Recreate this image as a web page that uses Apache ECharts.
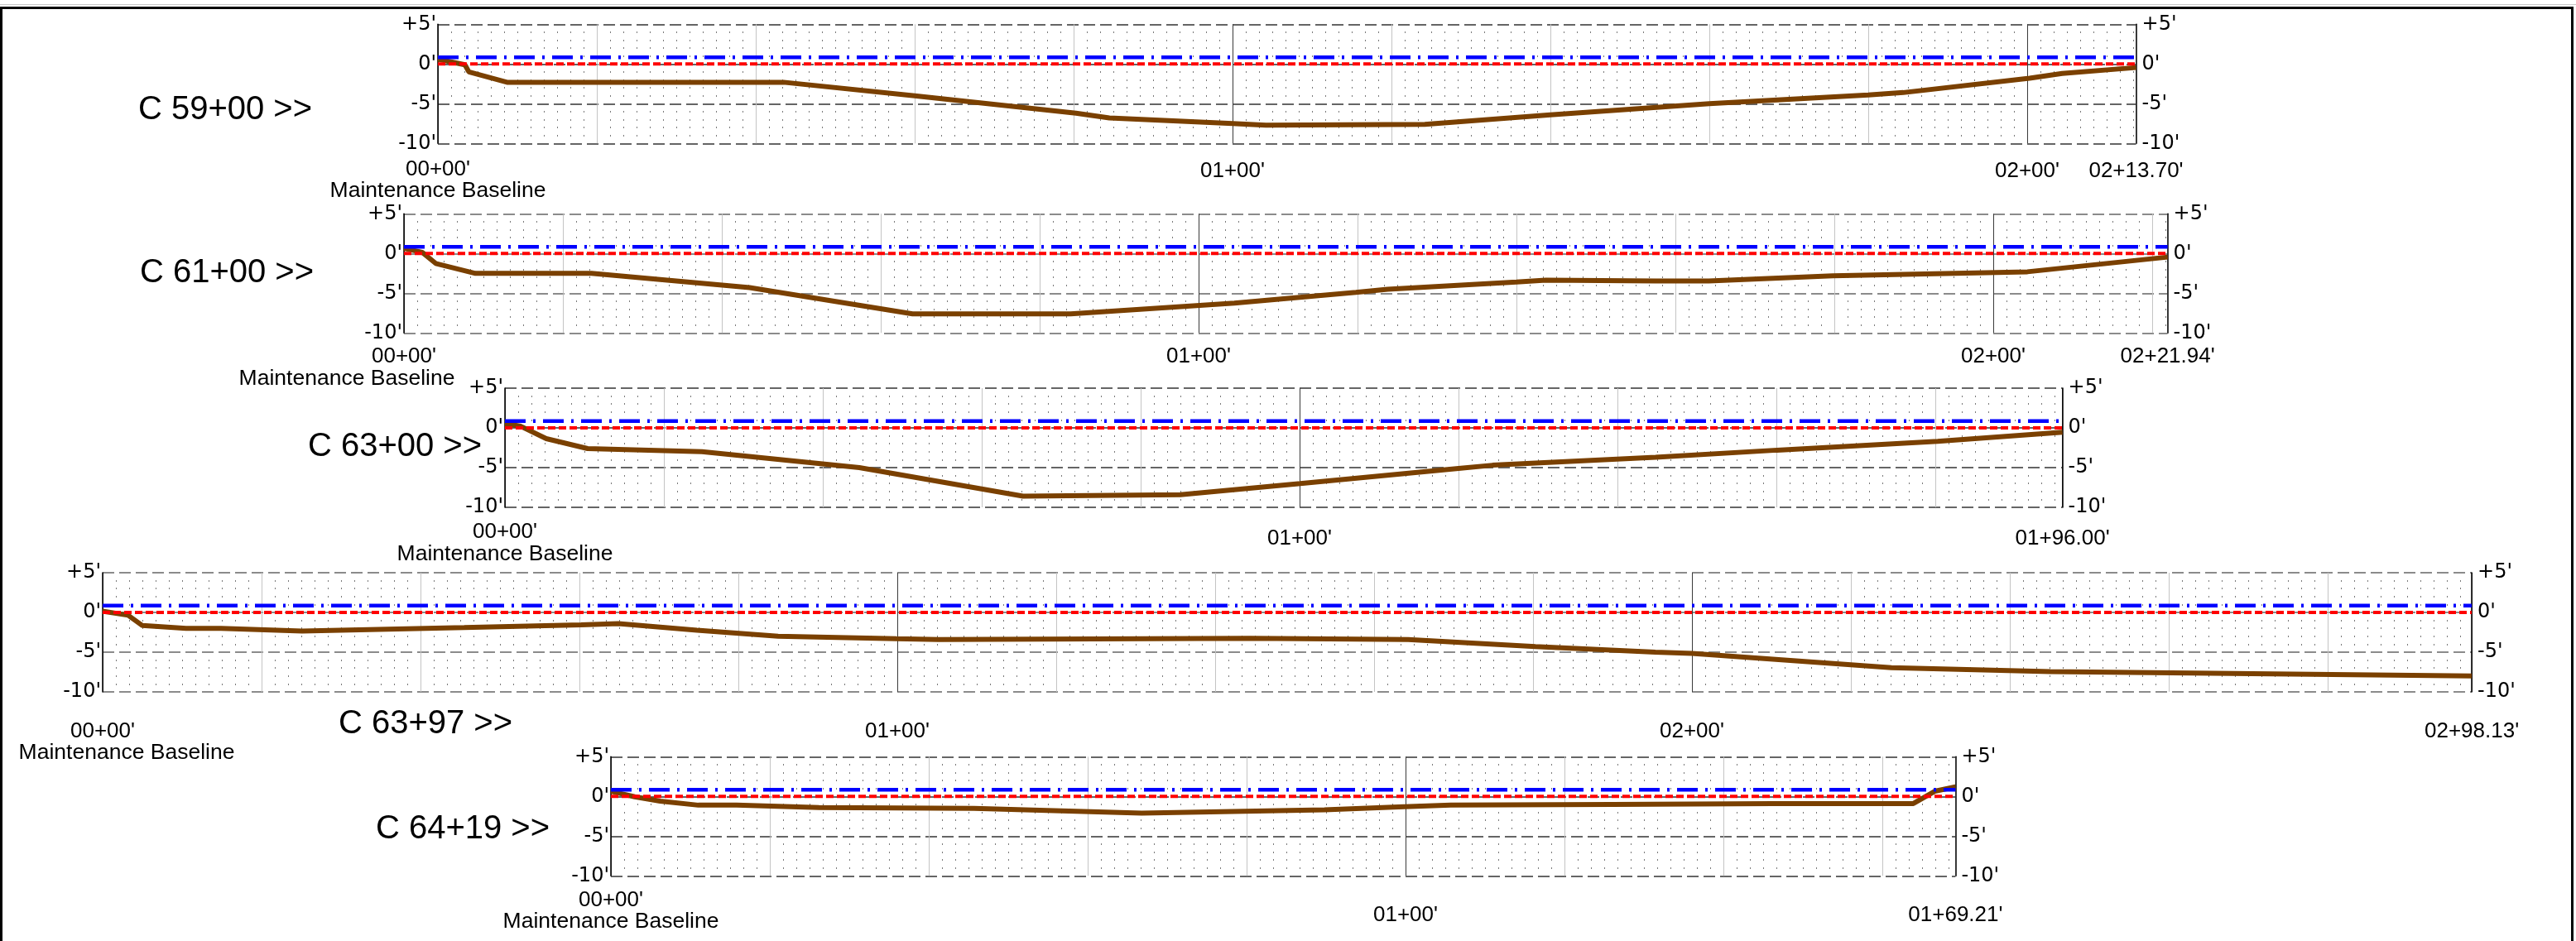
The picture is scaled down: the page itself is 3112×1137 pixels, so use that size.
<!DOCTYPE html>
<html><head><meta charset="utf-8">
<script src="https://cdn.jsdelivr.net/npm/echarts@6.0.0/dist/echarts.min.js"></script>
<style>html,body{margin:0;padding:0;background:#fff}#c{width:3112px;height:1137px}</style>
</head><body><div id="c"></div>
<script>
// ---------------- DATA ----------------
const sectionNames = ['C 59+00 >>', 'C 61+00 >>', 'C 63+00 >>', 'C 63+97 >>', 'C 64+19 >>'];
const sectionLengths = [213.70, 221.94, 196.00, 298.13, 169.21];
const endLabels = ["02+13.70'", "02+21.94'", "01+96.00'", "02+98.13'", "01+69.21'"];
const yTickValues = [5, 0, -5, -10];
const yTickLabels = ["+5'", "0'", "-5'", "-10'"];
const baselineLabel = 'Maintenance Baseline';
const redLevel = 0;      // red dashed line
const blueLevel = 0.85;  // blue dash-dot line

// profiles: [distance ft, elevation ft]
const profileC5900 = [[0,0.6],[3.4,-0.1],[3.9,-1.0],[8.7,-2.3],[43.5,-2.3],[60,-4.0],[80.3,-6.2],[84.5,-6.8],[100,-7.5],[104.2,-7.7],[124.2,-7.6],[140,-6.4],[160,-5.0],[180,-3.9],[184.4,-3.6],[200.3,-1.8],[204.4,-1.2],[213.7,-0.45]];
const profileC6100 = [[0,0.65],[2.3,0.15],[4,-1.25],[9,-2.5],[23.6,-2.5],[43.5,-4.3],[64,-7.6],[83.9,-7.6],[104.5,-6.25],[119.8,-4.9],[123.8,-4.5],[140,-3.6],[143.7,-3.35],[157.5,-3.45],[164.2,-3.45],[179.8,-2.8],[204.3,-2.3],[221.94,-0.45]];
const profileC6300 = [[0,0.55],[2,0.2],[5.2,-1.35],[10.4,-2.6],[24.8,-3.0],[44.6,-5.0],[65.2,-8.6],[85,-8.4],[100.1,-7.0],[120,-5.1],[124.3,-4.7],[144.8,-3.7],[160.1,-2.8],[180.3,-1.7],[196,-0.55]];
const profileC6397 = [[0,0.15],[3.2,-0.35],[5,-1.65],[10.5,-2.0],[14.9,-2.0],[25.1,-2.35],[45.5,-1.9],[60.2,-1.55],[64.9,-1.4],[74.8,-2.25],[85,-3.0],[99.9,-3.3],[105.2,-3.4],[144.4,-3.25],[164.3,-3.4],[180.3,-4.3],[195.4,-5.0],[200,-5.15],[225.1,-6.95],[245.1,-7.45],[265.5,-7.65],[298.13,-8.0]];
const profileC6419 = [[0,0.65],[3,-0.05],[6.2,-0.6],[11,-1.1],[15.8,-1.1],[26.2,-1.4],[45.7,-1.5],[66.8,-2.1],[89.8,-1.7],[99.8,-1.3],[105.7,-1.1],[126,-1.0],[146.2,-0.9],[163.9,-0.9],[166.6,0.65],[169.21,1.2]];
const profiles = [profileC5900, profileC6100, profileC6300, profileC6397, profileC6419];

// ---------------- LAYOUT / STYLE ----------------
const FONT = "'Liberation Sans', Arial, Helvetica, sans-serif";
const YFONT = "'DejaVu Sans', 'Liberation Sans', sans-serif";
const PX_PER_FT = 9.6;
const PLOT_H = 144;
const layouts = [
  {left:529, top:29.3, lx:272, ly:133, xMargin:18.2, xOff:4, mbShift:0, hcolor:'#333'},
  {left:488, top:258.3, lx:274, ly:330, xMargin:15.9, xOff:0, mbShift:-69, hcolor:'#666'},
  {left:610, top:469, lx:477, ly:540, xMargin:17.2, xOff:16, mbShift:0, hcolor:'#333'},
  {left:124, top:692, lx:514, ly:875, xMargin:34.5, xOff:0, mbShift:29, hcolor:'#666'},
  {left:738, top:914.3, lx:559, ly:1002, xMargin:16.2, xOff:36, mbShift:0, hcolor:'#333'}
];

function pad2(n){ return (n < 10 ? '0' : '') + n; }
function station(v){ const h = Math.floor(v/100 + 1e-9); const r = Math.round(v - h*100); return pad2(h) + '+' + pad2(r) + "'"; }
function yFmt(v){ const k = yTickValues.indexOf(Math.round(v)); return k >= 0 ? yTickLabels[k] : ''; }

const grid = [], xAxis = [], yAxis = [], series = [], graphic = [];

graphic.push({type:'line', silent:true, shape:{x1:0,y1:5.5,x2:3112,y2:5.5}, style:{stroke:'#c8c8c8', lineWidth:1}});
graphic.push({type:'rect', silent:true, shape:{x:1.5,y:9.5,width:3106,height:1200}, style:{fill:'transparent', stroke:'#000', lineWidth:3}});

profiles.forEach((prof, i) => {
  const L = layouts[i];
  const len = sectionLengths[i];
  grid.push({left:L.left, top:L.top, width:len*PX_PER_FT, height:PLOT_H, containLabel:false, outerBoundsMode:'none'});
  const custom = [0, 100, 200, 300].filter(v => v < len - 5).concat([len]);
  const s = L.mbShift;
  xAxis.push({
    gridIndex:i, type:'value', min:0, max:len, interval:20,
    axisLine:{show:false}, axisTick:{show:false},
    splitLine:{show:true, lineStyle:{color:['#3a3a3a','#c4c4c4','#c4c4c4','#c4c4c4','#c4c4c4'], width:1}},
    axisLabel:{
      customValues: custom, margin:L.xMargin, color:'#000', fontFamily:FONT, fontSize:26,
      formatter: v => {
        if (Math.abs(v) < 1e-9) return "{a|00+00'}\n{b|" + baselineLabel + "}";
        const t = Math.abs(v - len) < 1e-6 ? endLabels[i] : station(v);
        return '{c|' + t + '}';
      },
      rich:{
        a:{fontSize:26, lineHeight:26, color:'#000', fontFamily:FONT},
        b:{fontSize:26.5, lineHeight:27, color:'#000', fontFamily:FONT, padding:[0, s<0?-2*s:0, 0, s>0?2*s:0]},
        c:{fontSize:26, lineHeight:26, color:'#000', fontFamily:FONT, padding:[L.xOff,0,0,0]}
      }
    }
  });
  yAxis.push({
    gridIndex:i, type:'value', min:-10, max:5, interval:5, position:'left',
    axisLine:{show:true, lineStyle:{color:'#000', width:1.5}}, axisTick:{show:false},
    axisLabel:{formatter:yFmt, fontSize:24, color:'#000', fontFamily:YFONT, margin:2},
    splitLine:{show:true, lineStyle:{color:L.hcolor, width:1.5, type:[14,6]}},
    minorTick:{show:false, splitNumber:5},
    minorSplitLine:{show:true, lineStyle:{color:'#7a7a7a', width:2, type:[1,15]}}
  });
  yAxis.push({
    gridIndex:i, type:'value', min:-10, max:5, interval:5, position:'right',
    axisLine:{show:true, lineStyle:{color:'#000', width:1.5}}, axisTick:{show:false},
    axisLabel:{formatter:yFmt, fontSize:24, color:'#000', fontFamily:YFONT, margin:7},
    splitLine:{show:false}
  });
  series.push({type:'line', xAxisIndex:i, yAxisIndex:2*i, data:prof, showSymbol:false, silent:true, z:3,
    lineStyle:{color:'#7a4000', width:6}});
  series.push({type:'line', xAxisIndex:i, yAxisIndex:2*i, data:[[0,redLevel],[len,redLevel]], showSymbol:false, silent:true, z:4,
    lineStyle:{color:'#ff0000', width:4, type:[9,4]}});
  series.push({type:'line', xAxisIndex:i, yAxisIndex:2*i, data:[[0,blueLevel],[len,blueLevel]], showSymbol:false, silent:true, z:5,
    lineStyle:{color:'#0000ff', width:4.5, type:[25,9,3,9]}});
  graphic.push({type:'text', silent:true, x:L.lx, y:L.ly,
    style:{text:sectionNames[i], font:'40px ' + FONT, fill:'#000', align:'center', verticalAlign:'middle'}});
});

const chart = echarts.init(document.getElementById('c'), null, {renderer:'canvas'});
chart.setOption({animation:false, backgroundColor:'#fff', grid, xAxis, yAxis, series, graphic});
</script></body></html>
